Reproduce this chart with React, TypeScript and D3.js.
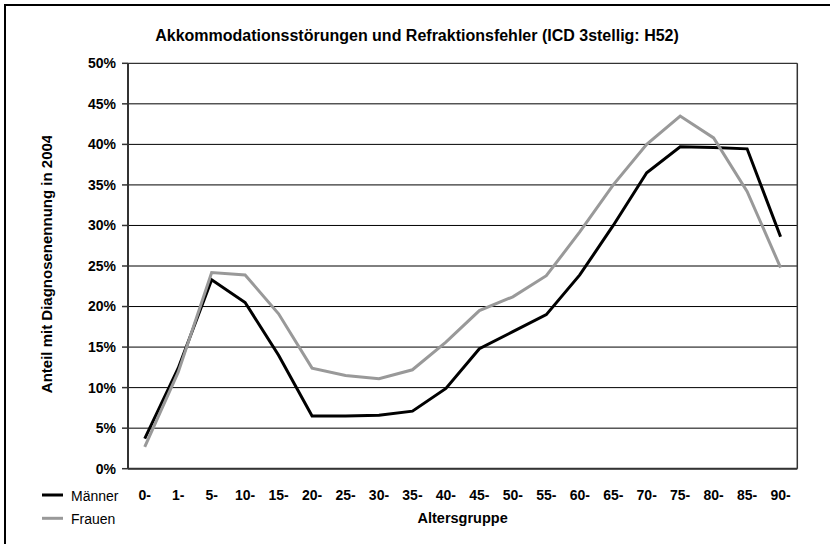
import React from "react";
import * as d3 from "d3";

const categories = ["0-", "1-", "5-", "10-", "15-", "20-", "25-", "30-", "35-", "40-", "45-", "50-", "55-", "60-", "65-", "70-", "75-", "80-", "85-", "90-"];
const maenner = [3.7, 12.4, 23.3, 20.5, 14.0, 6.5, 6.5, 6.6, 7.1, 9.9, 14.8, 16.9, 19.0, 23.9, 30.0, 36.5, 39.7, 39.6, 39.45, 28.6];
const frauen = [2.7, 11.9, 24.2, 23.9, 19.1, 12.4, 11.5, 11.1, 12.2, 15.6, 19.5, 21.2, 23.8, 29.2, 35.0, 40.0, 43.5, 40.8, 34.2, 24.8];
const yTicks = [0, 5, 10, 15, 20, 25, 30, 35, 40, 45, 50];
const seriesNames = ["Männer", "Frauen"];
const seriesColors = ["#000000", "#999999"];
const title = "Akkommodationsstörungen und Refraktionsfehler (ICD 3stellig: H52)";
const yTitle = "Anteil mit Diagnosenennung in 2004";
const xTitle = "Altersgruppe";

const W = 830;
const H = 544;
const plot = { left: 128, right: 797.3, top: 63.3, bottom: 468.7 };
const FONT = "'Liberation Sans', Arial, Helvetica, sans-serif";

export default function App() {
  const x = d3.scaleBand<string>().domain(categories).range([plot.left, plot.right]).paddingInner(0).paddingOuter(0);
  const y = d3.scaleLinear().domain([0, 50]).range([plot.bottom, plot.top]);
  const cx = (c: string) => (x(c) as number) + x.bandwidth() / 2;

  const line = d3
    .line<number>()
    .x((_, i) => cx(categories[i]))
    .y((d) => y(d));

  const series = [maenner, frauen];

  return (
    <svg width={W} height={H} style={{ position: "absolute", left: 0, top: 0, background: "#fff" }} fontFamily={FONT}>
      <defs>
        <clipPath id="ytclip">
          <rect x={0} y={136} width={100} height={400} />
        </clipPath>
      </defs>
      <rect x={0} y={0} width={W} height={H} fill="#fff" />
      {/* outer frame */}
      <rect x={5} y={5} width={W + 20} height={H + 20} fill="none" stroke="#000" strokeWidth={2} />

      {/* title */}
      <text x={417} y={41} textAnchor="middle" fontSize={16} fontWeight="bold" fill="#000">
        {title}
      </text>

      {/* gridlines */}
      {yTicks.map((t) => (
        <line key={"g" + t} x1={plot.left} x2={plot.right} y1={y(t)} y2={y(t)} stroke="#000" strokeWidth={1} />
      ))}
      {/* plot border right */}
      <line x1={plot.right} x2={plot.right} y1={plot.top} y2={plot.bottom} stroke="#333" strokeWidth={1.5} />
      {/* axes */}
      <line x1={plot.left} x2={plot.left} y1={plot.top} y2={plot.bottom} stroke="#333" strokeWidth={2} />
      <line x1={plot.left} x2={plot.right} y1={plot.bottom} y2={plot.bottom} stroke="#333" strokeWidth={2} />

      {/* y ticks */}
      {yTicks.map((t) => (
        <g key={"t" + t}>
          <line x1={plot.left - 6} x2={plot.left} y1={y(t)} y2={y(t)} stroke="#333" strokeWidth={1.5} />
          <text x={116} y={y(t)} dy="0.35em" textAnchor="end" fontSize={14} fontWeight="bold" fill="#000">
            {t + "%"}
          </text>
        </g>
      ))}

      {/* x labels */}
      {categories.map((c) => (
        <text key={"x" + c} x={cx(c)} y={500} textAnchor="middle" fontSize={14} fontWeight="bold" fill="#000">
          {c}
        </text>
      ))}

      {/* axis titles */}
      <text x={(plot.left + plot.right) / 2} y={523} textAnchor="middle" fontSize={14.5} fontWeight="bold" fill="#000">
        {xTitle}
      </text>
      <g clipPath="url(#ytclip)">
        <text
          transform={`translate(52, ${(plot.top + plot.bottom) / 2 - 2}) rotate(-90)`}
          textAnchor="middle"
          fontSize={15}
          fontWeight="bold"
          fill="#000"
        >
          {yTitle}
        </text>
      </g>

      {/* data lines */}
      {series.map((s, i) => (
        <path
          key={"s" + i}
          d={line(s) as string}
          fill="none"
          stroke={seriesColors[i]}
          strokeWidth={3}
          strokeLinejoin="miter"
          strokeLinecap="butt"
        />
      ))}

      {/* legend */}
      {seriesNames.map((n, i) => (
        <g key={"l" + n}>
          <line x1={42} x2={63} y1={495 + i * 23.3} y2={495 + i * 23.3} stroke={seriesColors[i]} strokeWidth={3} />
          <text x={71} y={501 + i * 23.3} fontSize={14} fill="#000">
            {n}
          </text>
        </g>
      ))}
    </svg>
  );
}
